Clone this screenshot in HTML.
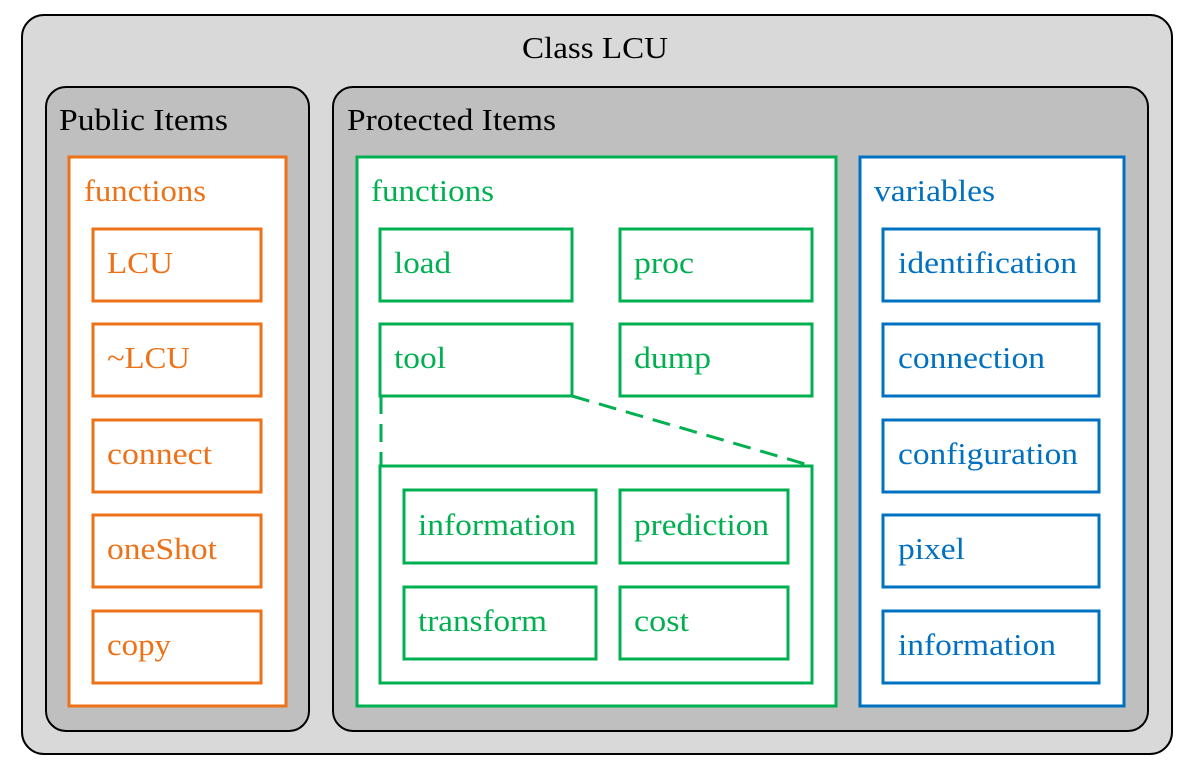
<!DOCTYPE html>
<html><head><meta charset="utf-8"><style>html,body{margin:0;padding:0;background:#fff}svg{display:block}text{font-family:"Liberation Serif",serif;font-size:31px}</style></head><body>
<svg width="1195" height="771" viewBox="0 0 1195 771" xmlns="http://www.w3.org/2000/svg">
<rect x="22" y="15" width="1150" height="739" rx="22" fill="#d9d9d9" stroke="#000" stroke-width="2"/>
<rect x="46" y="87" width="263" height="644" rx="20" fill="#bfbfbf" stroke="#000" stroke-width="2"/>
<rect x="333" y="87" width="815" height="644" rx="20" fill="#bfbfbf" stroke="#000" stroke-width="2"/>
<text x="522" y="58" textLength="146" lengthAdjust="spacingAndGlyphs">Class LCU</text>
<text x="59" y="130" textLength="169" lengthAdjust="spacingAndGlyphs">Public Items</text>
<text x="347" y="130" textLength="209" lengthAdjust="spacingAndGlyphs">Protected Items</text>
<g fill="#fff" stroke="#ed7117" stroke-width="3">
<rect x="69" y="157" width="217" height="549"/>
<rect x="93" y="229" width="168" height="72"/><rect x="93" y="324" width="168" height="72"/><rect x="93" y="420" width="168" height="72"/><rect x="93" y="515" width="168" height="72"/><rect x="93" y="611" width="168" height="72"/>
</g>
<g fill="#ed7117">
<text x="84" y="201" textLength="122" lengthAdjust="spacingAndGlyphs">functions</text>
<text x="107" y="273" textLength="66" lengthAdjust="spacingAndGlyphs">LCU</text>
<text x="107" y="368" textLength="83" lengthAdjust="spacingAndGlyphs">~LCU</text>
<text x="107" y="464" textLength="105" lengthAdjust="spacingAndGlyphs">connect</text>
<text x="107" y="559" textLength="110" lengthAdjust="spacingAndGlyphs">oneShot</text>
<text x="107" y="655" textLength="64" lengthAdjust="spacingAndGlyphs">copy</text>
</g>
<g fill="#fff" stroke="#00b050" stroke-width="3">
<rect x="357" y="157" width="479" height="549"/>
<rect x="380" y="229" width="192" height="72"/><rect x="620" y="229" width="192" height="72"/>
<rect x="380" y="324" width="192" height="72"/><rect x="620" y="324" width="192" height="72"/>
<rect x="380" y="466" width="432" height="217"/>
<rect x="404" y="490" width="192" height="73"/><rect x="620" y="490" width="168" height="73"/>
<rect x="404" y="587" width="192" height="72"/><rect x="620" y="587" width="168" height="72"/>
</g>
<g stroke="#00b050" stroke-width="3" stroke-dasharray="18,10" fill="none">
<line x1="381" y1="396" x2="381" y2="466"/>
<line x1="572" y1="396" x2="812" y2="466"/>
</g>
<g fill="#00b050">
<text x="371" y="201" textLength="123" lengthAdjust="spacingAndGlyphs">functions</text>
<text x="394" y="273" textLength="57" lengthAdjust="spacingAndGlyphs">load</text>
<text x="634" y="273" textLength="60" lengthAdjust="spacingAndGlyphs">proc</text>
<text x="394" y="368" textLength="52" lengthAdjust="spacingAndGlyphs">tool</text>
<text x="634" y="368" textLength="77" lengthAdjust="spacingAndGlyphs">dump</text>
<text x="418" y="535" textLength="158" lengthAdjust="spacingAndGlyphs">information</text>
<text x="634" y="535" textLength="135" lengthAdjust="spacingAndGlyphs">prediction</text>
<text x="418" y="631" textLength="129" lengthAdjust="spacingAndGlyphs">transform</text>
<text x="634" y="631" textLength="55" lengthAdjust="spacingAndGlyphs">cost</text>
</g>
<g fill="#fff" stroke="#0070c0" stroke-width="3">
<rect x="860" y="157" width="264" height="549"/>
<rect x="883" y="229" width="216" height="72"/><rect x="883" y="324" width="216" height="72"/><rect x="883" y="420" width="216" height="72"/><rect x="883" y="515" width="216" height="72"/><rect x="883" y="611" width="216" height="72"/>
</g>
<g fill="#0070c0">
<text x="874" y="201" textLength="121" lengthAdjust="spacingAndGlyphs">variables</text>
<text x="898" y="273" textLength="179" lengthAdjust="spacingAndGlyphs">identification</text>
<text x="898" y="368" textLength="147" lengthAdjust="spacingAndGlyphs">connection</text>
<text x="898" y="464" textLength="180" lengthAdjust="spacingAndGlyphs">configuration</text>
<text x="898" y="559" textLength="67" lengthAdjust="spacingAndGlyphs">pixel</text>
<text x="898" y="655" textLength="158" lengthAdjust="spacingAndGlyphs">information</text>
</g>
</svg>
</body></html>
